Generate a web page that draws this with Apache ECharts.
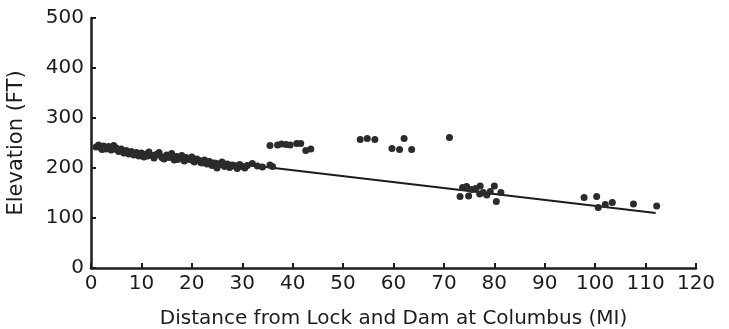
<!DOCTYPE html>
<html>
<head>
<meta charset="utf-8">
<script src="https://cdn.jsdelivr.net/npm/echarts@6/dist/echarts.min.js"></script>
<style>
  html, body { margin: 0; padding: 0; background: #fff; }
  #chart { width: 729px; height: 329px; }
</style>
</head>
<body>
<div id="chart"></div>
<script>
// observed elevations along the river (distance in miles, elevation in feet)
const distances = [
  1, 1.5, 2, 2.5, 3, 3.5, 4, 4.5, 5, 5.5, 6, 6.5, 7, 7.5, 8, 8.5, 9, 9.5,
  10, 10.5, 11, 11.5, 12, 12.5, 13, 13.5, 14, 14.5, 15, 15.5, 16, 16.5, 17, 17.5,
  18, 18.5, 19, 19.5, 20, 20.5, 21, 21.5, 22, 22.5, 23, 23.5, 24, 24.5, 25, 25.5,
  26, 26.5, 27, 27.5, 28, 28.5, 29, 29.5, 30, 30.5, 31, 32, 33, 34, 35.5, 36,
  2.2, 3.8, 5.2, 6.8, 8.2, 9.8, 11.2, 12.8, 14.2, 15.8, 17.2, 18.8, 20.2, 21.8,
  23.2, 24.8, 26.2, 27.8,
  35.5, 37, 37.8, 38.7, 39.5, 40.8, 41.6, 42.6, 43.6,
  53.4, 54.8, 56.3, 59.7, 61.2, 62.1, 63.6, 71.1,
  73.2, 73.7, 74.5, 74.9, 75.5, 76.3, 77.2, 77.1, 77.8, 78.5, 79.2, 80, 80.4, 81.3,
  97.8, 100.3, 100.6, 102, 103.4, 107.6, 112.2
];
const elevations = [
  242, 246, 240, 244, 238, 243, 236, 245, 240, 233, 238, 230, 235, 228, 233, 226, 231, 224,
  230, 222, 228, 232, 225, 220, 227, 231, 222, 218, 226, 221, 229, 216, 223, 219,
  225, 214, 220, 217, 222, 212, 218, 215, 210, 216, 208, 213, 205, 210, 200, 207,
  212, 203, 208, 201, 206, 204, 199, 207, 203, 200, 205, 209, 204, 202, 206, 203,
  237, 241, 236, 232, 229, 227, 224, 226, 220, 224, 217, 221, 215, 211,
  212, 204, 206, 205,
  245, 246, 248, 247, 246, 249, 249, 235, 238,
  257, 259, 257, 239, 237, 259, 237, 261,
  143, 161, 163, 144, 157, 159, 164, 148, 151, 146, 153, 164, 133, 151,
  141, 143, 121, 127, 131, 128, 124
];

// fitted trend line end points
const fitX = [1, 112];
const fitY = [242, 110];

const xTicks = [0, 10, 20, 30, 40, 50, 60, 70, 80, 90, 100, 110, 120];
const yTicks = [0, 100, 200, 300, 400, 500];

const ink = "#1c1c1c";
const font = "DejaVu Sans";

const chart = echarts.init(document.getElementById("chart"), null, { renderer: "canvas" });

chart.setOption({
  animation: false,
  backgroundColor: "#fff",
  // fixed plot box, don't let labels push it around
  grid: { left: 91, right: 33, top: 18, bottom: 61, containLabel: false, outerBoundsMode: "none" },
  xAxis: {
    type: "value",
    min: xTicks[0],
    max: xTicks[xTicks.length - 1],
    interval: 10,
    name: "Distance from Lock and Dam at Columbus (MI)",
    nameLocation: "middle",
    nameGap: 41,
    nameTextStyle: { color: ink, fontFamily: font, fontSize: 20 },
    axisLine: { show: true, lineStyle: { color: ink, width: 2.5 } },
    axisTick: { show: true, inside: true, length: 5, lineStyle: { color: ink, width: 2 } },
    axisLabel: { color: ink, fontFamily: font, fontSize: 20, margin: 6 },
    splitLine: { show: false }
  },
  yAxis: {
    type: "value",
    min: yTicks[0],
    max: yTicks[yTicks.length - 1],
    interval: 100,
    name: "Elevation (FT)",
    nameLocation: "middle",
    nameGap: 64,
    nameTextStyle: { color: ink, fontFamily: font, fontSize: 21 },
    axisLine: { show: true, lineStyle: { color: ink, width: 2.5 } },
    axisTick: { show: true, inside: true, length: 5, lineStyle: { color: ink, width: 2 } },
    axisLabel: { color: ink, fontFamily: font, fontSize: 20, margin: 7 },
    splitLine: { show: false }
  },
  series: [
    {
      name: "trend",
      type: "line",
      data: fitX.map((x, i) => [x, fitY[i]]),
      showSymbol: false,
      lineStyle: { color: ink, width: 2 },
      z: 2
    },
    {
      name: "observed",
      type: "scatter",
      data: distances.map((x, i) => [x, elevations[i]]),
      symbol: "circle",
      symbolSize: 7,
      itemStyle: { color: "#2b2b2b", opacity: 1 },
      z: 3
    }
  ]
});
</script>
</body>
</html>
